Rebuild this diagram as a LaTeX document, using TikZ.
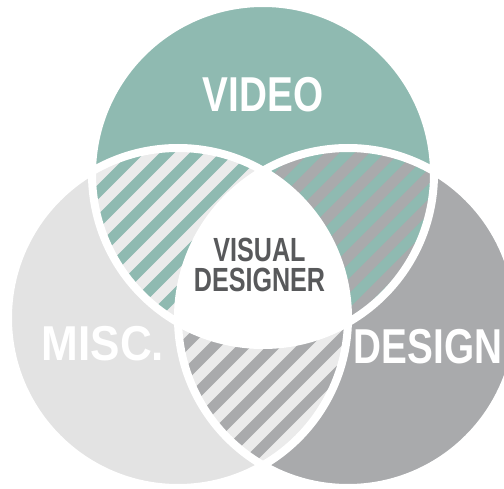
\documentclass[tikz,border=0pt]{standalone}
\usepackage{fontspec}
\newfontfamily\labfont[FakeStretch=0.79]{Liberation Sans}
\newfontfamily\labfontw[FakeStretch=0.9]{Liberation Sans}
\newfontfamily\labfontn[FakeStretch=0.75]{Liberation Sans}
\definecolor{vteal}{HTML}{8FBAB1}
\definecolor{vlight}{HTML}{E3E3E3}
\definecolor{vstripe}{HTML}{EBEBEB}
\definecolor{vdark}{HTML}{A9AAAC}
\definecolor{vtext}{HTML}{58595B}
\tikzset{
  stripeline/.style={line width=10.6pt},
  ring/.style={draw=white, line width=8pt},
  biglabel/.style={text=white, inner sep=0pt, anchor=base, text height=35pt, text depth=0pt},
  smalllabel/.style={text=vtext, inner sep=0pt, align=center,
    font=\labfontn\bfseries\fontsize{33.5}{30}\selectfont}
}
\begin{document}
\begin{tikzpicture}[x=1pt,y=-1pt]
\useasboundingbox (0,0) rectangle (504,489);
\coordinate (ct) at (263,174);
\coordinate (cl) at (178,318);
\coordinate (cr) at (348,318);
\def\radt{171pt}
\def\rads{170pt}
% circles
\fill[vteal] (ct) circle[radius=\radt];
\fill[vlight] (cl) circle[radius=\rads];
\fill[vdark] (cr) circle[radius=\rads];
% top-left lens
\begin{scope}
  \clip (ct) circle[radius=\radt];
  \clip (cl) circle[radius=\rads];
  \fill[vstripe] (0,0) rectangle (504,489);
  \foreach \c in {0,30,...,1020} \draw[stripeline, vteal] (\c,-10) -- ++(-520,520);
\end{scope}
% top-right lens
\begin{scope}
  \clip (ct) circle[radius=\radt];
  \clip (cr) circle[radius=\rads];
  \fill[vdark] (0,0) rectangle (504,489);
  \foreach \c in {0,30,...,1020} \draw[stripeline, vteal] (\c,-10) -- ++(-520,520);
\end{scope}
% bottom lens
\begin{scope}
  \clip (cl) circle[radius=\rads];
  \clip (cr) circle[radius=\rads];
  \fill[vstripe] (0,0) rectangle (504,489);
  \foreach \c in {0,30,...,1020} \draw[stripeline, vdark] (\c,-10) -- ++(-520,520);
\end{scope}
% centre
\begin{scope}
  \clip (ct) circle[radius=\radt];
  \clip (cl) circle[radius=\rads];
  \clip (cr) circle[radius=\rads];
  \fill[white] (0,0) rectangle (504,489);
\end{scope}
% white rings
\draw[ring] (ct) circle[radius=\radt];
\draw[ring] (cl) circle[radius=\rads];
\draw[ring] (cr) circle[radius=\rads];
% labels
\node[biglabel, font=\labfont\bfseries\fontsize{49}{50}\selectfont] (video) at (263,111.5) {VIDEO};
\node[biglabel, font=\labfontw\bfseries\fontsize{49}{50}\selectfont] (misc) at (103,361) {MISC.};
\node[biglabel, font=\labfont\bfseries\fontsize{49}{50}\selectfont] (design) at (428,363) {DESIGN};
\node[smalllabel] (vd) at (259.5,265.3) {VISUAL\\DESIGNER};
\end{tikzpicture}
\end{document}
